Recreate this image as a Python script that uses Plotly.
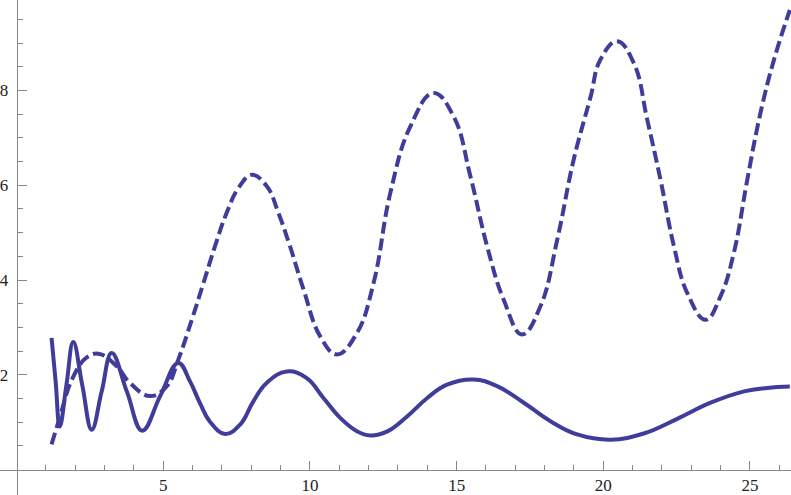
import plotly.graph_objects as go

# solid curve
solid_x = [1.19, 1.33, 1.47, 1.70, 1.93, 2.24, 2.56, 2.90, 3.24, 3.76, 4.28, 4.90, 5.51,
           5.91, 6.25, 6.59, 7.11, 7.62, 8.07, 8.53, 9.21, 9.89, 10.46, 11.03, 11.60,
           12.05, 12.62, 13.31, 14.00, 14.67, 15.58, 16.38, 17.29, 18.20, 19.11, 20.25,
           21.38, 22.52, 23.66, 24.80, 25.59, 26.36]
solid_y = [2.78, 1.85, 0.91, 1.80, 2.69, 1.77, 0.84, 1.65, 2.46, 1.64, 0.82, 1.56, 2.25,
           1.86, 1.40, 1.01, 0.75, 0.95, 1.44, 1.83, 2.07, 1.93, 1.51, 1.09, 0.81,
           0.72, 0.80, 1.12, 1.51, 1.79, 1.90, 1.76, 1.41, 1.02, 0.74, 0.63,
           0.76, 1.07, 1.41, 1.65, 1.72, 1.75]

# dashed curve
dash_x = [1.19, 1.47, 1.90, 2.40, 2.82, 3.41, 3.86, 4.55, 5.12, 5.51, 5.97, 6.37, 6.76,
          7.16, 7.56, 8.02, 8.53, 8.92, 9.30, 9.78, 10.35, 10.92, 11.60, 12.17, 12.74,
          13.42, 14.21, 14.90, 15.47, 16.04, 16.60, 17.23, 17.86, 18.43, 18.99, 19.56,
          19.90, 20.47, 21.04, 21.50, 21.95, 22.41, 22.86, 23.49, 24.00, 24.45, 24.91,
          25.36, 25.82, 26.36]
dash_y = [0.53, 1.10, 1.92, 2.37, 2.44, 2.18, 1.83, 1.55, 1.76, 2.32, 3.16, 3.94, 4.71,
          5.42, 5.94, 6.22, 5.98, 5.42, 4.75, 3.80, 2.81, 2.43, 2.88, 3.94, 5.84,
          7.24, 7.95, 7.45, 6.19, 4.71, 3.59, 2.85, 3.45, 4.85, 6.54, 7.85,
          8.65, 9.04, 8.58, 7.38, 6.12, 4.71, 3.73, 3.16, 3.66, 4.57, 6.12,
          7.53, 8.65, 9.70]

x_ticks = [5, 10, 15, 20, 25]
x_minor = [1, 2, 3, 4, 6, 7, 8, 9, 11, 12, 13, 14, 16, 17, 18, 19, 21, 22, 23, 24, 26]
y_ticks = [2, 4, 6, 8]
y_minor = [0.5, 1, 1.5, 2.5, 3, 3.5, 4.5, 5, 5.5, 6.5, 7, 7.5, 8.5, 9, 9.5]

blue = '#3f3d99'
gray = '#888888'
xr = [-0.568, 26.40]
yr = [-0.538, 9.911]

fig = go.Figure()
fig.add_trace(go.Scatter(x=dash_x, y=dash_y, mode='lines',
                         line=dict(color=blue, width=4, dash='12px,5px',
                                   shape='spline', smoothing=1.2)))
fig.add_trace(go.Scatter(x=solid_x, y=solid_y, mode='lines',
                         line=dict(color=blue, width=4, shape='spline', smoothing=1.2)))

tickfont = dict(family='Liberation Serif, DejaVu Serif, serif', size=17, color='#222222')
fig.update_xaxes(range=xr, anchor='free', position=(0 - yr[0]) / (yr[1] - yr[0]),
                 showgrid=False, zeroline=False, showline=True, linecolor=gray, linewidth=1,
                 tickmode='array', tickvals=x_ticks, ticks='inside', ticklen=9,
                 tickcolor=gray, tickfont=tickfont,
                 minor=dict(tickmode='array', tickvals=x_minor, ticks='inside', ticklen=5,
                            tickcolor=gray, showgrid=False))
fig.update_yaxes(range=yr, anchor='free', position=(0 - xr[0]) / (xr[1] - xr[0]),
                 showgrid=False, zeroline=False, showline=True, linecolor=gray, linewidth=1,
                 tickmode='array', tickvals=y_ticks, ticks='inside', ticklen=9,
                 tickcolor=gray, tickfont=tickfont, ticklabelstandoff=5,
                 minor=dict(tickmode='array', tickvals=y_minor, ticks='inside', ticklen=5,
                            tickcolor=gray, showgrid=False))
fig.update_layout(width=791, height=495, margin=dict(l=0, r=0, t=0, b=0),
                  plot_bgcolor='white', paper_bgcolor='white', showlegend=False)

# page body has a default 8px margin; drop it so the figure fills the window
fig.write_html("out.html", config={'displayModeBar': False},
               post_script="document.body.style.margin='0px';")
